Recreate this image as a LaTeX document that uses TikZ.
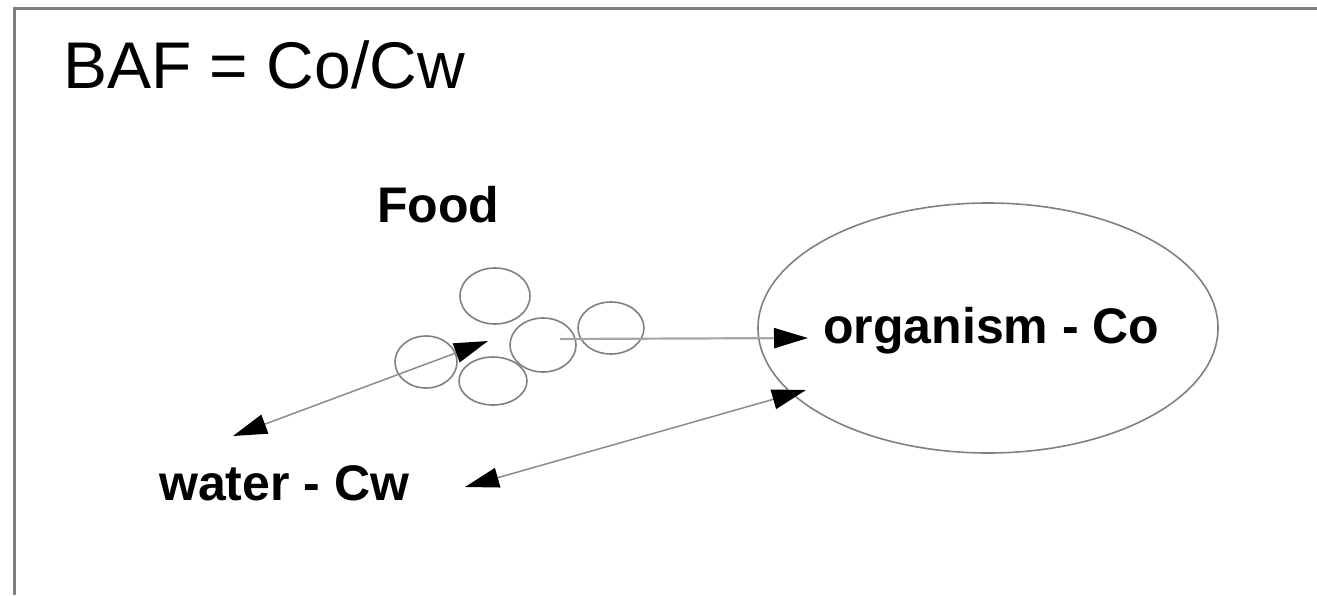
\documentclass[tikz,border=0pt]{standalone}
\usepackage{fontspec}
\setmainfont{Liberation Sans}
\usetikzlibrary{shapes.geometric,arrows.meta}
\tikzset{
  blob/.style={ellipse,draw=black!50,line width=1.6pt,inner sep=0pt},
  lbl/.style={font=\fontsize{50}{56}\selectfont\bfseries,inner sep=0pt,anchor=base west},
  flow/.style={draw=black!45,line width=1.5pt}
}
\newcommand\foodblob[4]{\node(#1)[blob,minimum width=#3,minimum height=#4] at (#2) {};}

\begin{document}
\begin{tikzpicture}[x=1pt,y=-1pt,>={Triangle[length=34pt,width=20pt,color=black]}]
    \useasboundingbox (0,0) rectangle (1317,595);
    \draw[black!50,line width=3pt] (14.5,595) -- (14.5,8.5) -- (1317,8.5);

    \node(baf)[anchor=base west,inner sep=0pt,font=\fontsize{66}{72}\selectfont] at (63,88) {BAF = Co/Cw};
    \node(food)[lbl] at (377,222) {Food};
    \node(water)[lbl] at (159,500) {water - Cw};
    \node(org)[ellipse,draw=black!50,line width=1.6pt,minimum width=460pt,minimum height=250pt] at (988,328) {};
    \node(orgname)[lbl] at (823,343) {organism - Co};

    \foodblob{f1}{495,296}{70pt}{56pt}
    \foodblob{f2}{426,362}{62pt}{52pt}
    \foodblob{f3}{493,381}{68pt}{48pt}
    \foodblob{f4}{543,345}{66pt}{54pt}
    \foodblob{f5}{611,328}{66pt}{52pt}

    \coordinate (wtip) at (233,436);
    \coordinate (ftip) at (488,341);
    \coordinate (fout) at (560,339);
    \coordinate (otip) at (808,338);
    \coordinate (wtip2) at (465,487);
    \coordinate (otip2) at (806,390);
    \draw[flow,<->] (wtip) -- (ftip);
    \draw[flow,->,draw=black!35,line width=2.2pt] (fout) -- (otip);
    \draw[flow,<->] (wtip2) -- (otip2);
\end{tikzpicture}
\end{document}
